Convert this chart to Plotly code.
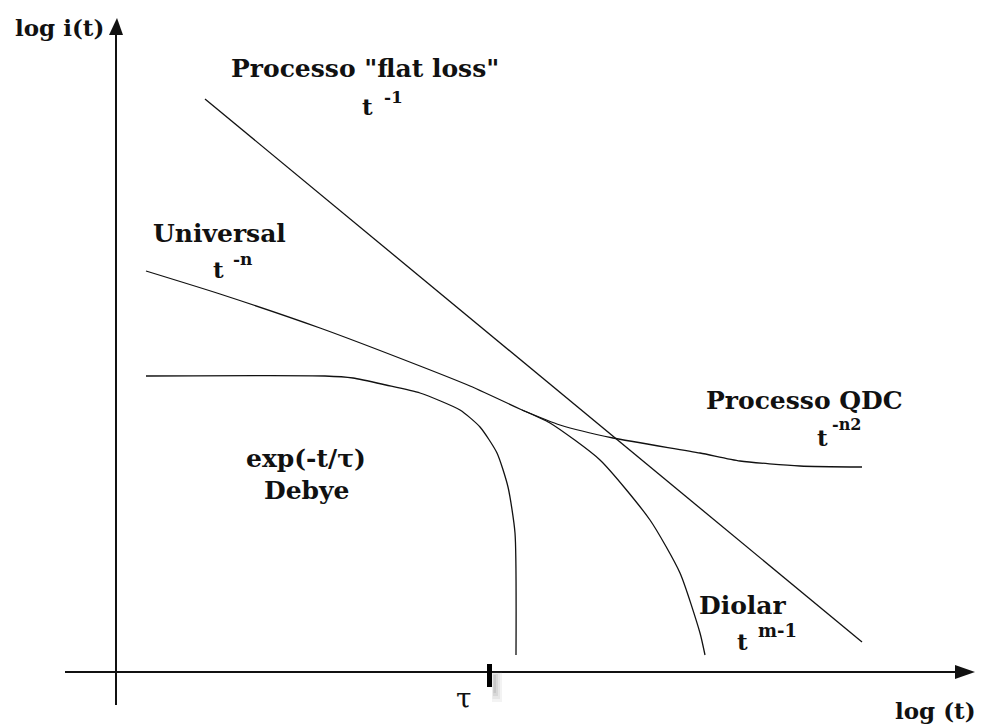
import plotly.graph_objects as go

# Schematic current-decay curves, log i(t) against log t.
# Coordinates: origin at the axes crossing, x to the right, y upward.

flat_loss_x = [89, 746]
flat_loss_y = [573, 30]

universal_x = [30, 104, 204, 304, 354, 406]
universal_y = [401, 378, 344, 306, 286, 262]

qdc_x = [406, 444, 497, 584, 624, 684, 746]
qdc_y = [262, 247, 234, 219, 211, 206, 205]

diolar_x = [406, 434, 484, 534, 564, 584, 589]
diolar_y = [262, 249, 212, 152, 99, 39, 17]

debye_x = [30, 209, 237, 270, 304, 344, 364, 381, 392, 399, 400]
debye_y = [296, 296, 294, 287, 279, 262, 245, 219, 185, 139, 17]

tau_x = 373

FONT = "DejaVu Serif"
INK = "#111111"

fig = go.Figure()

for xs, ys in [(flat_loss_x, flat_loss_y), (universal_x, universal_y),
               (qdc_x, qdc_y), (diolar_x, diolar_y), (debye_x, debye_y)]:
    fig.add_trace(go.Scatter(x=xs, y=ys, mode="lines",
                             line=dict(color=INK, width=1.3, shape="spline", smoothing=0.6),
                             hoverinfo="skip", showlegend=False))

shapes = []
# axes
shapes.append(dict(type="line", x0=0, x1=0, y0=-33, y1=640, line=dict(color=INK, width=2)))
shapes.append(dict(type="line", x0=-51, x1=842, y0=0, y1=0, line=dict(color=INK, width=2)))
# arrowheads
shapes.append(dict(type="path", path="M -7,637 L 7,637 L 1,654 Z", fillcolor=INK, line=dict(width=0)))
shapes.append(dict(type="path", path="M 839,7 L 839,-7 L 859,0 Z", fillcolor=INK, line=dict(width=0)))
# soft shadow behind the tau tick
for i, op in enumerate([0.10, 0.12, 0.16, 0.20]):
    shapes.append(dict(type="rect", x0=tau_x + 3 + i * 0.5, x1=tau_x + 13 - i * 2,
                       y0=-30 + i * 3, y1=0 - i * 1, fillcolor="#888888",
                       opacity=op, line=dict(width=0)))
shapes.append(dict(type="rect", x0=tau_x - 2, x1=tau_x + 3, y0=-15, y1=8,
                   fillcolor="#000000", line=dict(width=0)))

fig.update_layout(shapes=shapes)


def label(text, x, y, size, bold=True):
    fig.add_annotation(x=x, y=y, text=("<b>" + text + "</b>") if bold else text,
                       showarrow=False, xref="x", yref="y",
                       xanchor="center", yanchor="middle",
                       font=dict(family=FONT, size=size, color=INK))


label("log i(t)", -57, 645, 23)
label("Processo \"flat loss\"", 249, 604, 25)
label("t", 251, 566, 23)
label("-1", 277, 575, 17)
label("Universal", 103, 439, 25)
label("t", 102, 403, 23)
label("-n", 126, 413, 17)
label("Processo QDC", 688, 272, 25)
label("t", 706, 235, 23)
label("-n2", 730, 248, 16)
label("exp(-t/τ)", 190, 214, 25)
label("Debye", 191, 182, 25)
label("Diolar", 627, 67, 25)
label("t", 626, 31, 23)
label("m-1", 661, 42, 18)
label("τ", 348, -26, 28, bold=False)
label("log (t)", 819, -38, 23)

fig.update_xaxes(range=[-116, 865], visible=False, fixedrange=True)
fig.update_yaxes(range=[-53, 672], visible=False, fixedrange=True)
fig.update_layout(width=981, height=725, margin=dict(l=0, r=0, t=0, b=0),
                  paper_bgcolor="white", plot_bgcolor="white")

fig.write_html("out.html")
